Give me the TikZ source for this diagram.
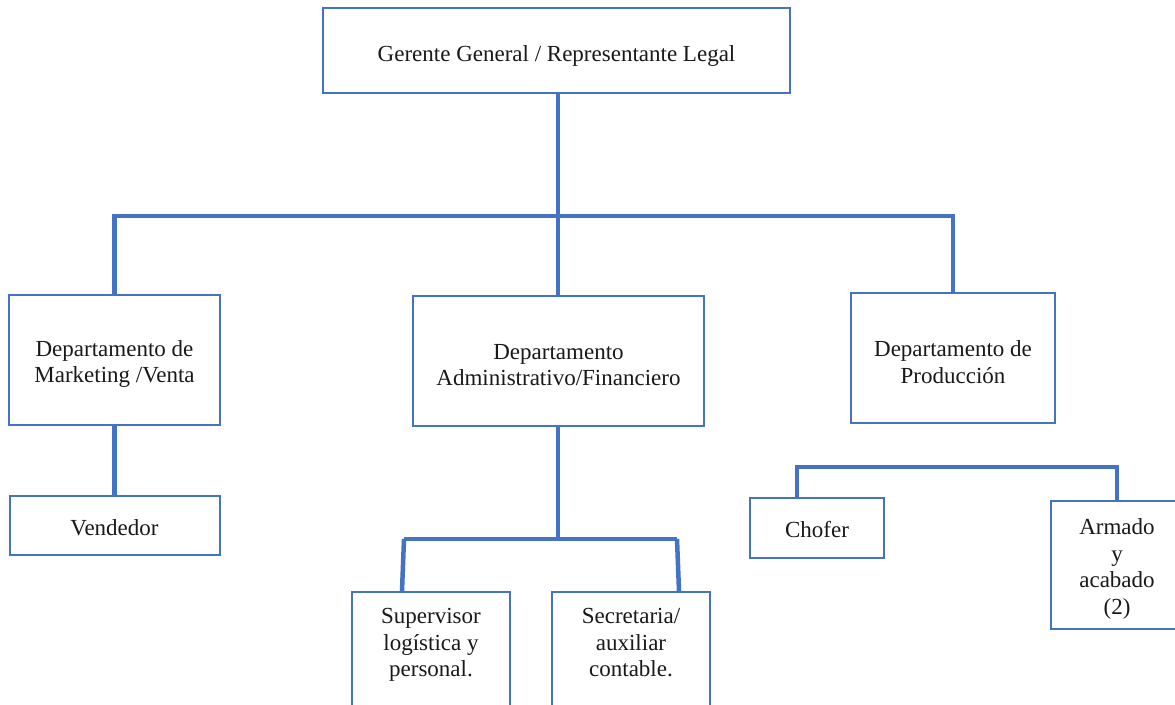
\documentclass[tikz,border=0pt]{standalone}
\usepackage{fontspec}
\setmainfont{Liberation Serif}
\definecolor{orgblue}{HTML}{4472C4}
\begin{document}
\begin{tikzpicture}[x=1pt,y=-1pt,
  frame/.style={draw=orgblue, line width=2pt, rectangle, inner sep=0pt},
  caption/.style={inner sep=0pt, align=center,
    font=\fontsize{23}{26.7}\selectfont, text=black!90},
  link/.style={draw=orgblue, line width=4.5pt}]
\clip (0,0) rectangle (1175,704);
\fill[white] (0,0) rectangle (1175,704);

% frames of the units
\node[frame, minimum width=467pt, minimum height=85pt]  (ger)  at (556.5,50.5) {};
\node[frame, minimum width=211pt, minimum height=130pt] (mkt)  at (114.5,360) {};
\node[frame, minimum width=291pt, minimum height=130pt] (adm)  at (558.5,361) {};
\node[frame, minimum width=204pt, minimum height=130pt] (prod) at (953,358) {};
\node[frame, minimum width=210pt, minimum height=59pt]  (ven)  at (114.5,525.5) {};
\node[frame, minimum width=158pt, minimum height=140pt] (sup)  at (431,662) {};
\node[frame, minimum width=158pt, minimum height=140pt] (sec)  at (631,662) {};
\node[frame, minimum width=134pt, minimum height=60pt]  (cho)  at (817,528) {};
\node[frame, minimum width=132pt, minimum height=128pt] (arm)  at (1117,565) {};

% names of the units (canvas y points up, hence the negative shifts)
\node[caption] (ger-t)  at ([yshift=-6pt]ger.center) {Gerente General / Representante Legal};
\node[caption] (mkt-t)  at ([yshift=-4pt]mkt.center) {Departamento de\\Marketing /Venta};
\node[caption] (adm-t)  at ([yshift=-4pt]adm.center) {Departamento\\Administrativo/Financiero};
\node[caption] (prod-t) at ([yshift=-4pt]prod.center) {Departamento de\\Producción};
\node[caption] (ven-t)  at ([yshift=-2pt]ven.center) {Vendedor};
\node[caption, anchor=north] (sup-t) at ([yshift=-17pt]sup.north) {Supervisor\\logística y\\personal.};
\node[caption, anchor=north] (sec-t) at ([yshift=-17pt]sec.north) {Secretaria/\\auxiliar\\contable.};
\node[caption] (cho-t)  at ([yshift=-2pt]cho.center) {Chofer};
\node[caption] (arm-t)  at ([yshift=-4pt]arm.center) {Armado\\y\\acabado\\(2)};

% junction points of the connector bars
\coordinate (bus) at (558,216);
\coordinate (ab) at (558,539);
\coordinate (abL) at (404,539);
\coordinate (abR) at (677,539);
\coordinate (pL) at (797,467);
\coordinate (pR) at (1117,467);

% connectors
\draw[link] (ger.south -| bus) -- (bus) -- (adm.north -| bus);
\draw[link] (mkt.north) |- (bus) -| (prod.north);
\draw[link] (mkt.south) -- (ven.north);
\draw[link] (adm.south -| ab) -- (ab);
\draw[link] (abL) -- (abR);
\draw[link] (abL) -- ([xshift=-29pt]sup.north);
\draw[link] (abR) -- ([xshift=48pt]sec.north);
\draw[link] ([xshift=-20pt]cho.north) -- (pL) -- (pR) -- (arm.north);
\end{tikzpicture}
\end{document}
